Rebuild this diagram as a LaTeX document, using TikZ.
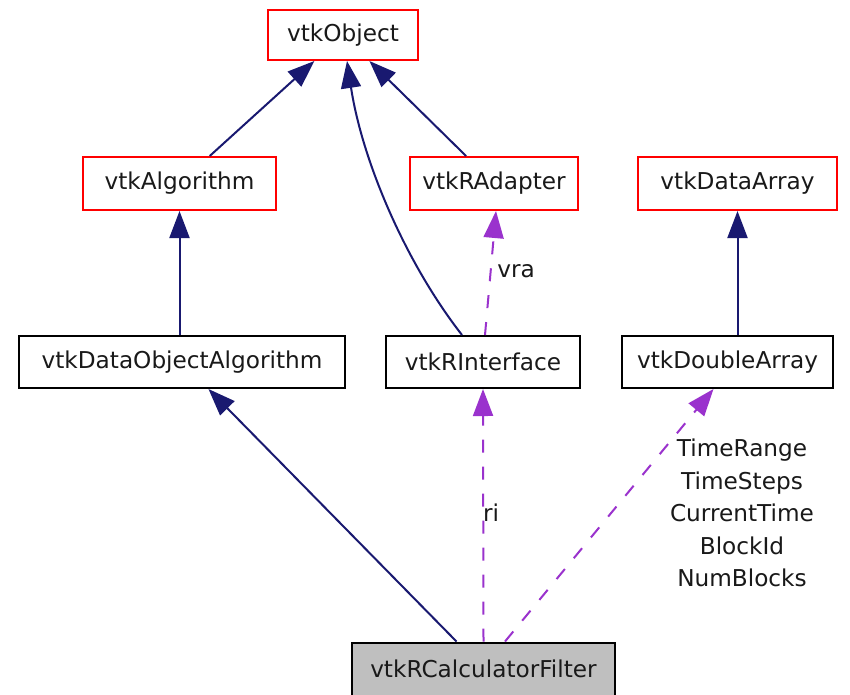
\documentclass[tikz,border=0pt]{standalone}
\usepackage{fontspec}
\setmainfont{DejaVu Sans}
\usetikzlibrary{arrows.meta,calc}
\definecolor{navyedge}{RGB}{25,25,112}
\definecolor{purpleedge}{RGB}{154,50,205}
\definecolor{redbox}{RGB}{255,0,0}
\definecolor{grayfill}{RGB}{191,191,191}
\definecolor{textcol}{RGB}{25,25,25}
\tikzset{
  cls/.style={draw, line width=2pt, inner sep=0pt, align=center, font=\fontsize{23.2}{27}\selectfont, text=textcol},
  redcls/.style={cls, draw=redbox},
  blackcls/.style={cls, draw=black},
  curcls/.style={cls, draw=black, fill=grayfill},
  inherit/.style={draw=navyedge, line width=2pt, -{Triangle[length=27pt,width=20pt]}, color=navyedge},
  usage/.style={draw=purpleedge, line width=2pt, dash pattern=on 13pt off 14pt, -{Triangle[length=27pt,width=20pt]}, color=purpleedge},
  elabel/.style={font=\fontsize{23.2}{32.5}\selectfont, text=textcol, align=center, inner sep=0pt}
}
\begin{document}
\begin{tikzpicture}[x=1pt,y=-1pt]
\useasboundingbox (0,0) rectangle (850,694);
\fill[white] (0,0) rectangle (850,694);
\begin{scope}
\clip (0,0) rectangle (850,694);
\node[redcls, minimum width=150pt, minimum height=50pt] (obj) at (343,35) {vtkObject};
\node[redcls, minimum width=193pt, minimum height=53pt] (alg) at (179.5,183.5) {vtkAlgorithm};
\node[redcls, minimum width=168pt, minimum height=53pt] (rad) at (494,183.5) {vtkRAdapter};
\node[redcls, minimum width=199pt, minimum height=53pt] (darr) at (737.5,183.5) {vtkDataArray};
\node[blackcls, minimum width=326pt, minimum height=52pt] (doa) at (182,362) {vtkDataObjectAlgorithm};
\node[blackcls, minimum width=194pt, minimum height=52pt] (rint) at (483,362) {vtkRInterface};
\node[blackcls, minimum width=211pt, minimum height=52pt] (dbl) at (727.5,362) {vtkDoubleArray};
\node[curcls, minimum width=263pt, minimum height=53pt] (calc) at (483.5,669) {vtkRCalculatorFilter};

\draw[inherit] (alg) -- (obj);
\draw[inherit] (rad) -- (obj);
\draw[inherit] ($(rint.north)+(-21,0)$) .. controls (405,262) and (362,160) .. ($(obj.south)+(4,0)$);
\draw[inherit] ($(doa.north)+(-2.5,0)$) -- (alg.south);
\draw[inherit] ($(dbl.north)+(10,0)$) -- (darr.south);
\draw[inherit] (calc) -- (doa);

\draw[usage] ($(rint.north)+(2,0)$) -- ($(rad.south)+(2,0)$);
\draw[usage] (calc.north) -- (rint.south);
\draw[usage] ($(calc.north)+(21.5,0)$) -- ($(dbl.south)+(-14,0)$);
\end{scope}

\node[elabel, anchor=center] (lvra) at (516,271) {vra};
\node[elabel, anchor=center] (lri) at (491,513) {ri};
\node[elabel, anchor=center] (ltime) at (742,513) {TimeRange\\TimeSteps\\CurrentTime\\BlockId\\NumBlocks};
\end{tikzpicture}
\end{document}
